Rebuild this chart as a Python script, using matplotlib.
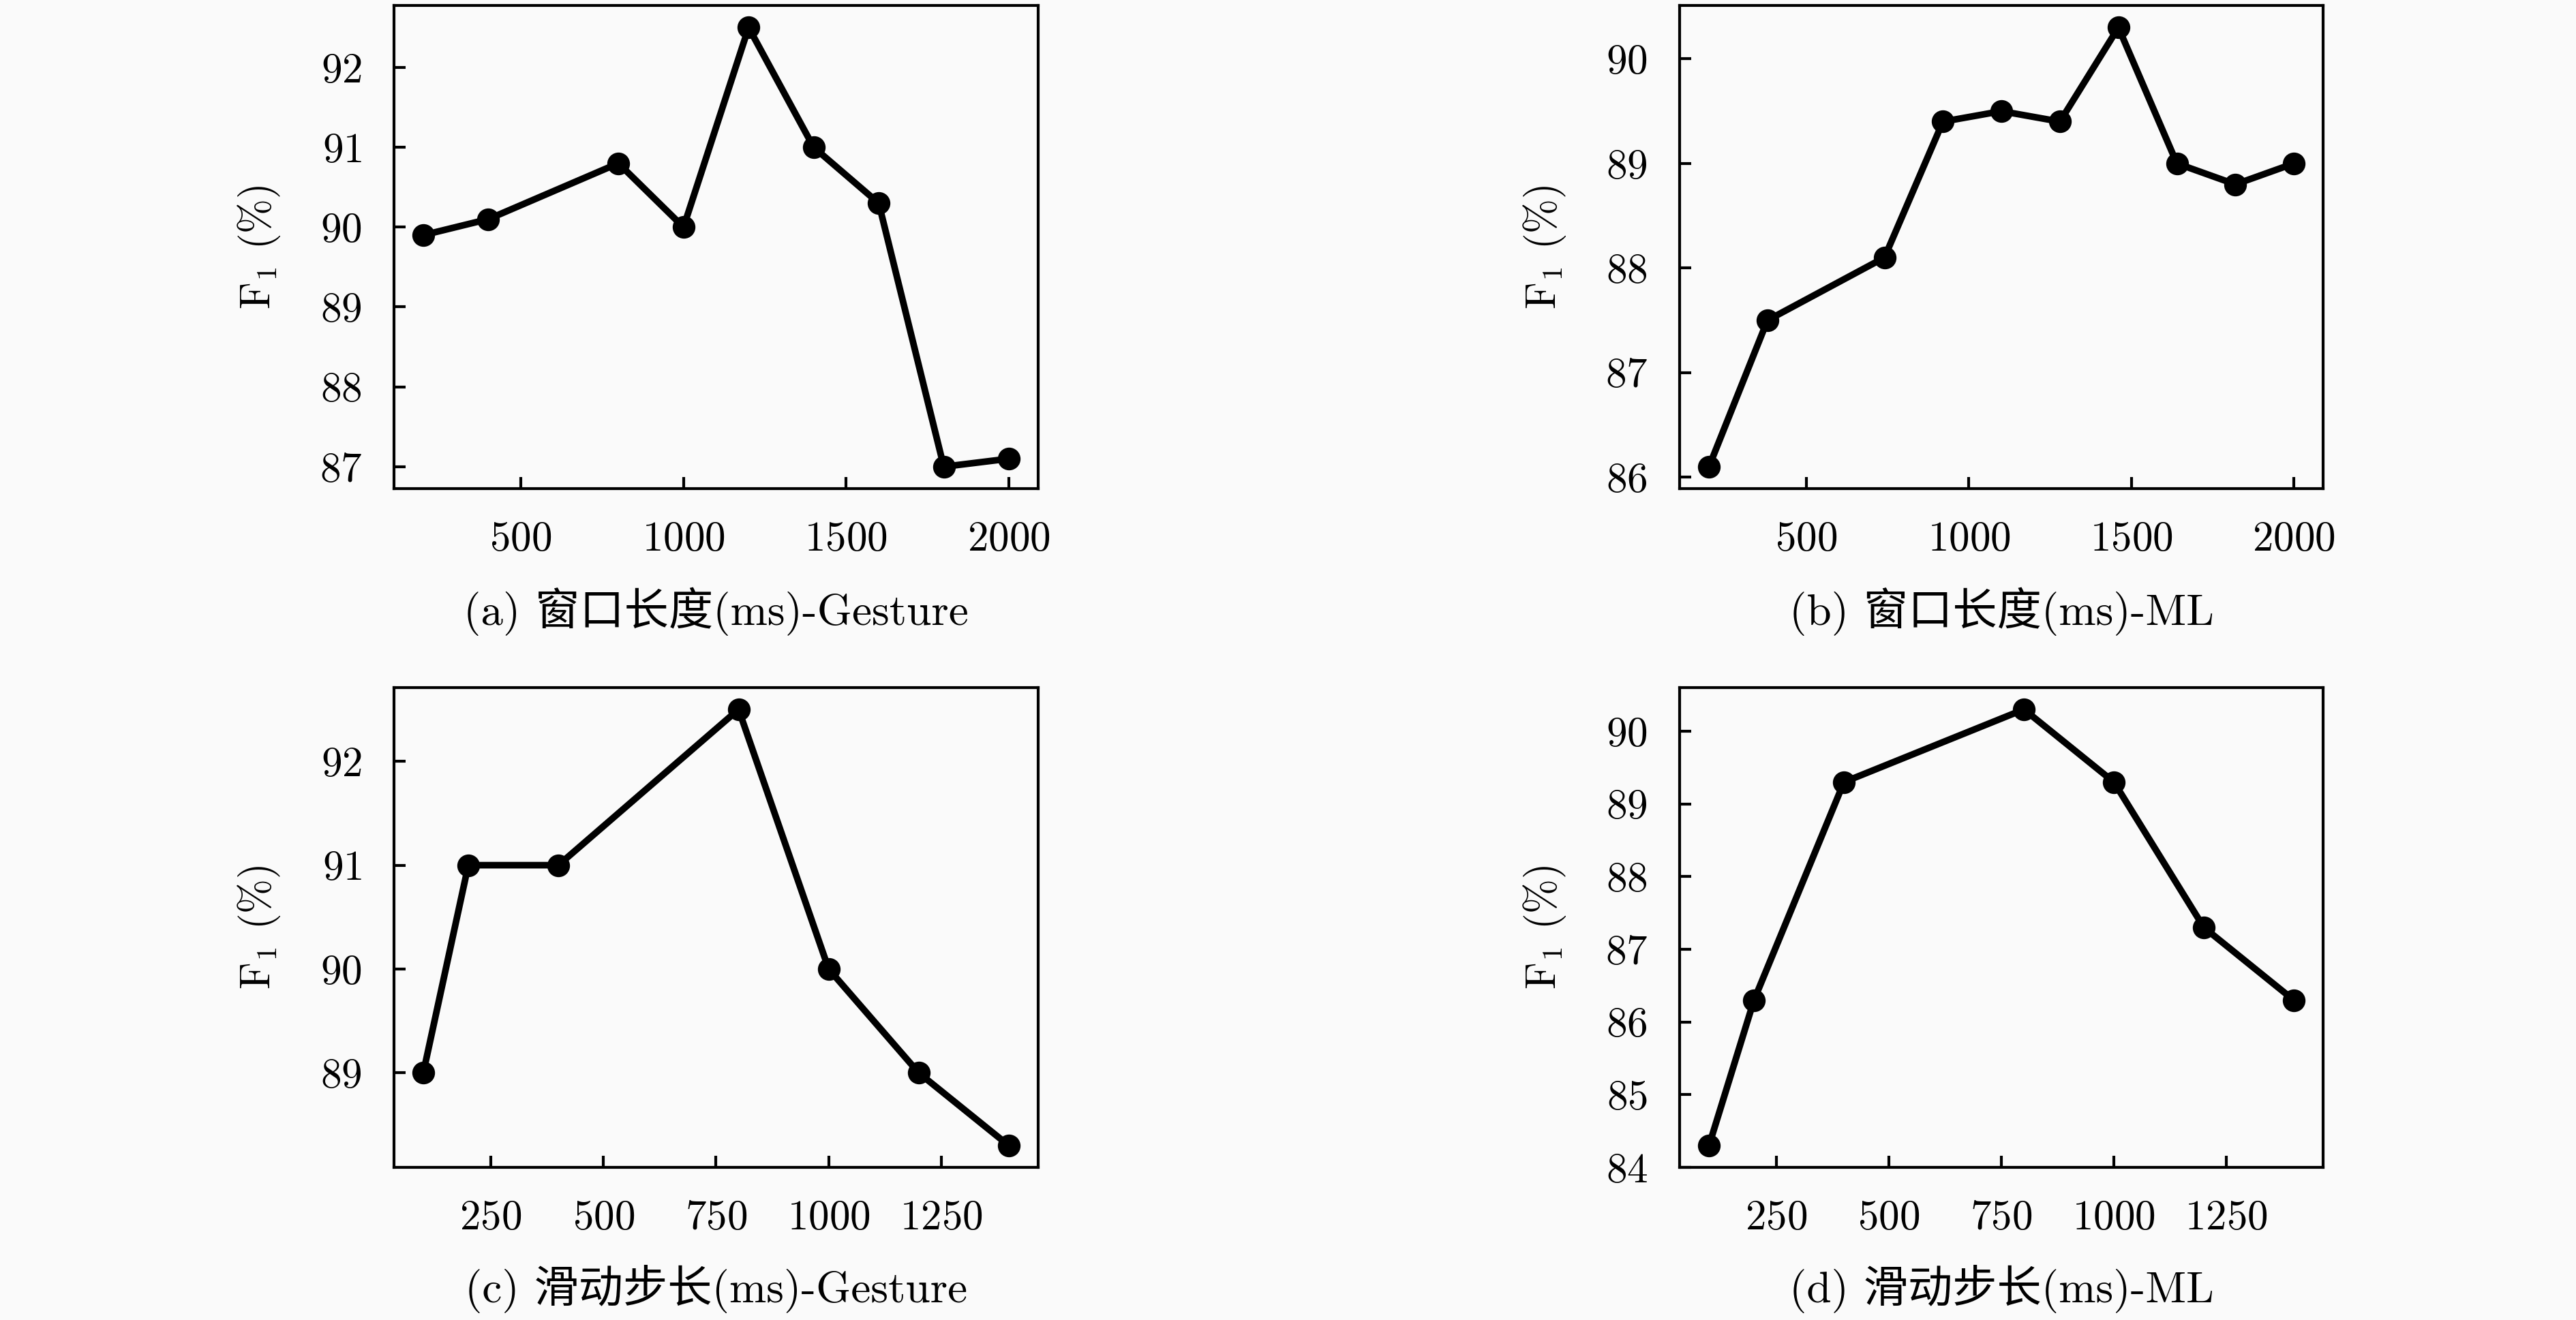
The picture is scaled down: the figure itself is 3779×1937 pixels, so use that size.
import matplotlib
matplotlib.use('Agg')
import matplotlib.pyplot as plt

plt.rcParams['font.family'] = ['cmr10', 'Noto Sans CJK SC']
plt.rcParams['mathtext.fontset'] = 'cm'
plt.rcParams['axes.formatter.use_mathtext'] = True

# data
window_gesture_x = [200, 400, 800, 1000, 1200, 1400, 1600, 1800, 2000]
window_gesture_f1 = [89.9, 90.1, 90.8, 90.0, 92.5, 91.0, 90.3, 87.0, 87.1]

window_ml_x = [200, 380, 740, 920, 1100, 1280, 1460, 1640, 1820, 2000]
window_ml_f1 = [86.1, 87.5, 88.1, 89.4, 89.5, 89.4, 90.3, 89.0, 88.8, 89.0]

step_x = [100, 200, 400, 800, 1000, 1200, 1400]
step_gesture_f1 = [89.0, 91.0, 91.0, 92.5, 90.0, 89.0, 88.3]
step_ml_f1 = [84.3, 86.3, 89.3, 90.3, 89.3, 87.3, 86.3]

window_xticks = [500, 1000, 1500, 2000]
step_xticks = [250, 500, 750, 1000, 1250]
yticks_a = [87, 88, 89, 90, 91, 92]
yticks_b = [86, 87, 88, 89, 90]
yticks_c = [89, 90, 91, 92]
yticks_d = [84, 85, 86, 87, 88, 89, 90]

captions = ['(a) 窗口长度(ms)-Gesture', '(b) 窗口长度(ms)-ML',
            '(c) 滑动步长(ms)-Gesture', '(d) 滑动步长(ms)-ML']

bg = '#fafafa'
fig = plt.figure(figsize=(37.8, 19.37), dpi=100, facecolor=bg)

# [left, bottom, width, height] in figure fractions
boxes = [
    [0.1529, 0.6298, 0.2500, 0.3660],
    [0.6519, 0.6298, 0.2497, 0.3660],
    [0.1529, 0.1156, 0.2500, 0.3635],
    [0.6519, 0.1156, 0.2497, 0.3635],
]

panels = [
    (window_gesture_x, window_gesture_f1, window_xticks, yticks_a),
    (window_ml_x, window_ml_f1, window_xticks, yticks_b),
    (step_x, step_gesture_f1, step_xticks, yticks_c),
    (step_x, step_ml_f1, step_xticks, yticks_d),
]

for box, (x, y, xt, yt), cap in zip(boxes, panels, captions):
    ax = fig.add_axes(box, facecolor=bg)
    ax.plot(x, y, color='black', linewidth=7, marker='o', markersize=23)
    ax.set_xticks(xt)
    ax.set_yticks(yt)
    ax.tick_params(direction='in', length=12, width=3, labelsize=44, pad=34)
    for s in ax.spines.values():
        s.set_linewidth(3)
    ax.set_ylabel(r'F$_1$ (%)', fontsize=44)
    ax.yaxis.set_label_coords(-0.174, 0.5)
    ax.text(0.5, -0.254, cap, transform=ax.transAxes, ha='center', va='center',
            fontsize=47)

fig.savefig('out.png', dpi=100, facecolor=bg)
